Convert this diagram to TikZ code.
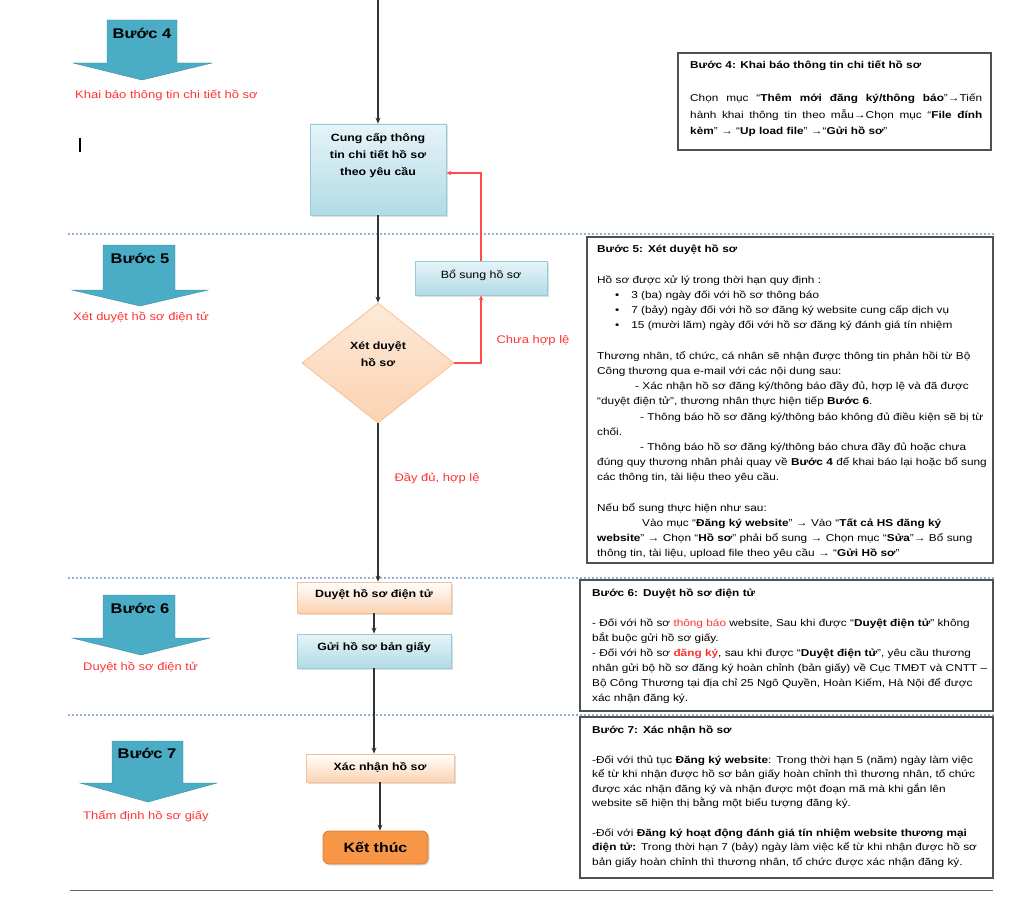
\documentclass[tikz,border=0pt]{standalone}
\usepackage{fontspec}
\setmainfont[FakeStretch=1.18]{Liberation Sans}
\usetikzlibrary{shapes.geometric,shadows,arrows.meta}
\definecolor{stepblue}{HTML}{4BACC6}
\definecolor{labred}{HTML}{FF3333}
\definecolor{loopred}{HTML}{FF4D4D}
\definecolor{dotblue}{HTML}{95B3D7}
\definecolor{bbord}{HTML}{92CDDC}
\definecolor{btop}{HTML}{E6F4F8}
\definecolor{bbot}{HTML}{B2DBE6}
\definecolor{pbord}{HTML}{FAC090}
\definecolor{pbot}{HTML}{FBD3B2}
\definecolor{endfill}{HTML}{F79646}
\definecolor{endbord}{HTML}{E07A2A}
\definecolor{boxbord}{HTML}{505050}
\newcommand{\boxfs}{\fontsize{10}{15.2}\selectfont}
\begin{document}
\begin{tikzpicture}[x=1pt,y=-1pt,
  flowline/.style={draw=black!80, line width=1.2pt, -{Stealth[length=6pt,width=5pt]}},
  redflow/.style={draw=loopred, line width=1.3pt, -{Stealth[length=5pt,width=4.5pt]}},
  bluebox/.style={rectangle, draw=bbord, line width=0.8pt, top color=btop, bottom color=bbot, inner sep=0pt,
    drop shadow={shadow xshift=1.5pt, shadow yshift=-1.5pt, opacity=0.25}},
  peachbox/.style={rectangle, draw=pbord, line width=0.8pt, top color=white, bottom color=pbot, inner sep=0pt,
    drop shadow={shadow xshift=1.5pt, shadow yshift=-1.5pt, opacity=0.25}},
  flowtext/.style={font=\fontsize{10.5}{17}\selectfont\bfseries, align=center, inner sep=0pt},
  steparrow/.style={fill=stepblue, draw=stepblue!80!black, line width=0.4pt},
  steptext/.style={font=\fontsize{14}{16}\selectfont\bfseries, inner sep=0pt},
  steplabel/.style={font=\fontsize{11}{13}\selectfont, text=labred, anchor=west, inner sep=0pt},
  sepline/.style={draw=dotblue, line width=1.5pt, dash pattern=on 2pt off 2pt},
  infobox/.style={draw=boxbord, line width=1.3pt, fill=white},
  infotext/.style={font=\boxfs, align=left, anchor=north west, inner sep=0pt, text width=400pt}
]
\useasboundingbox (0,0) rectangle (1017,923);

% separator lines
\draw[sepline] (68,234) -- (995,234);
\draw[sepline] (68,578) -- (995,578);
\draw[sepline] (68,715) -- (995,715);
\draw[draw=black!60, line width=1pt] (70,890) -- (993,890);

% cursor mark
\draw[line width=1.1pt] (80,138) -- (80,152);

% step arrows
\draw[steparrow] (107,20) -- (177,20) -- (177,63) -- (212,63) -- (142,80) -- (73,63) -- (107,63) -- cycle;
\node[steptext] (s4) at (142,33) {Bước 4};
\node[steplabel] (l4) at (75,95) {Khai báo thông tin chi tiết hồ sơ};

\draw[steparrow] (103,245) -- (175,245) -- (175,290) -- (208,290) -- (140,306) -- (72,290) -- (103,290) -- cycle;
\node[steptext] (s5) at (140,258) {Bước 5};
\node[steplabel] (l5) at (73,317) {Xét duyệt hồ sơ điện tử};

\draw[steparrow] (103,595) -- (175,595) -- (175,638) -- (210,638) -- (141,655) -- (72,638) -- (103,638) -- cycle;
\node[steptext] (s6) at (140,608) {Bước 6};
\node[steplabel] (l6) at (83,667) {Duyệt hồ sơ điện tử};

\draw[steparrow] (112,741) -- (183,741) -- (183,783) -- (217,783) -- (148,802) -- (80,783) -- (112,783) -- cycle;
\node[steptext] (s7) at (147,753) {Bước 7};
\node[steplabel] (l7) at (83,816) {Thẩm định hồ sơ giấy};

% flow nodes
\coordinate (topin) at (378,0);
\node[bluebox, minimum width=136pt, minimum height=91pt] (cung) at (378,169.5) {};
\node[flowtext] (cungt) at (378,156) {Cung cấp thông\\tin chi tiết hồ sơ\\theo yêu cầu};
\node[bluebox, minimum width=132pt, minimum height=34pt] (bosung) at (481,278) {};
\node[flowtext, font=\fontsize{10.5}{13}\selectfont] (bosungt) at (481,275) {Bổ sung hồ sơ};
\node[diamond, draw=pbord, line width=0.8pt, top color=pbot!50!white, bottom color=pbot, minimum width=152pt, minimum height=120pt, inner sep=0pt] (xet) at (378,363) {};
\node[flowtext] (xett) at (378,354) {Xét duyệt\\hồ sơ};
\node[peachbox, minimum width=154pt, minimum height=31pt] (duyet) at (374,597.5) {};
\node[flowtext] (duyett) at (374,595) {Duyệt hồ sơ điện tử};
\node[bluebox, minimum width=154pt, minimum height=34pt] (gui) at (374,651) {};
\node[flowtext] (guit) at (374,648) {Gửi hồ sơ bản giấy};
\node[peachbox, minimum width=148pt, minimum height=28pt] (xacnhan) at (380,768) {};
\node[flowtext] (xacnhant) at (380,767) {Xác nhận hồ sơ};
\node[rectangle, rounded corners=6pt, fill=endfill, draw=endbord, line width=0.8pt, minimum width=105pt, minimum height=33pt,
  font=\fontsize{13.5}{16}\selectfont\bfseries, drop shadow={shadow xshift=1.5pt, shadow yshift=-1.5pt, opacity=0.25}] (ket) at (375.5,847.5) {Kết thúc};

% connectors
\draw[flowline] (topin) -- (cung.north);
\draw[flowline] (cung.south) -- (xet.north);
\draw[flowline] (xet.south) -- (xet.south |- duyet.north);
\draw[flowline] (duyet.south) -- (gui.north);
\draw[flowline] (gui.south) -- (gui.south |- xacnhan.north);
\draw[flowline] (xacnhan.south) -- (xacnhan.south |- ket.north);
\draw[redflow] (xet.east) -| (bosung.south);
\draw[redflow] (bosung.north) |- (cung.east |- 0,173);
\node[font=\fontsize{11}{13}\selectfont, text=labred, inner sep=0pt] (chua) at (533,341) {Chưa hợp lệ};
\node[font=\fontsize{11}{13}\selectfont, text=labred, inner sep=0pt] (day) at (437,478) {Đầy đủ, hợp lệ};

% info boxes
\draw[infobox] (678,53) rectangle (991,150);
\node[infotext, text width=292pt, align=justify, font=\fontsize{10}{16.5}\selectfont] (t4) at (690,61) {\textbf{Bước 4: Khai báo thông tin chi tiết hồ sơ}\\[16.5pt]
Chọn mục “\textbf{Thêm mới đăng ký/thông báo}”→Tiến\linebreak
hành khai thông tin theo mẫu→Chọn mục “\textbf{File đính}\linebreak
\textbf{kèm}” → “\textbf{Up load file}” →“\textbf{Gửi hồ sơ}”};

\draw[infobox] (587,237) rectangle (993,563);
\node[infotext] (t5) at (597,245) {\textbf{Bước 5: Xét duyệt hồ sơ}\\[15.2pt]
Hồ sơ được xử lý trong thời hạn quy định :\\
\hspace*{18pt}•\hspace{12pt}3 (ba) ngày đối với hồ sơ thông báo\\
\hspace*{18pt}•\hspace{12pt}7 (bảy) ngày đối với hồ sơ đăng ký website cung cấp dịch vụ\\
\hspace*{18pt}•\hspace{12pt}15 (mười lăm) ngày đối với hồ sơ đăng ký đánh giá tín nhiệm\\[15.2pt]
Thương nhân, tổ chức, cá nhân sẽ nhận được thông tin phản hồi từ Bộ\\
Công thương qua e-mail với các nội dung sau:\\
\hspace*{38pt}- Xác nhận hồ sơ đăng ký/thông báo đầy đủ, hợp lệ và đã được\\
“duyệt điện tử”, thương nhân thực hiện tiếp \textbf{Bước 6}.\\
\hspace*{43pt}- Thông báo hồ sơ  đăng ký/thông báo không đủ điều kiện sẽ bị từ\\
chối.\\
\hspace*{43pt}- Thông báo hồ sơ  đăng ký/thông báo chưa đầy đủ hoặc chưa\\
đúng quy thương nhân phải quay về \textbf{Bước 4} để khai báo lại hoặc bổ sung\\
các thông tin, tài liệu theo yêu cầu.\\[15.2pt]
Nếu bổ sung thực hiện như sau:\\
\hspace*{45pt}Vào mục “\textbf{Đăng ký website}” → Vào “\textbf{Tất cả HS đăng ký}\\
\textbf{website}” → Chọn “\textbf{Hồ sơ}” phải bổ sung → Chọn mục “\textbf{Sửa}”→ Bổ sung\\
thông tin, tài liệu, upload file theo yêu cầu → “\textbf{Gửi Hồ sơ}”};

\draw[infobox] (580,580) rectangle (993,711);
\node[infotext, font=\fontsize{10}{15}\selectfont] (t6) at (592,589) {\textbf{Bước 6: Duyệt hồ sơ điện tử}\\[15pt]
-  Đối với hồ sơ \textcolor{labred}{thông báo}  website, Sau khi được “\textbf{Duyệt điện tử}” không\\
bắt buộc gửi hồ sơ giấy.\\
-  Đối với hồ sơ \textcolor{labred}{\textbf{đăng ký}}, sau khi được “\textbf{Duyệt điện tử}”, yêu cầu thương\\
nhân gửi bộ hồ sơ đăng ký  hoàn chỉnh (bản giấy) về Cục TMĐT và CNTT –\\
Bộ Công Thương tại địa chỉ 25 Ngô Quyền, Hoàn Kiếm, Hà Nội để được\\
xác nhận đăng ký.};

\draw[infobox] (580,717) rectangle (993,878);
\node[infotext, font=\fontsize{10}{14.6}\selectfont] (t7) at (592,726) {\textbf{Bước 7: Xác nhận hồ sơ}\\[14.6pt]
-Đối với thủ tục \textbf{Đăng ký website}: Trong thời hạn 5 (năm) ngày làm việc\\
kể từ  khi nhận được hồ sơ bản giấy hoàn chỉnh thì  thương nhân, tổ chức\\
được xác nhận đăng ký và nhận được một đoạn mã mà khi gắn lên\\
website sẽ hiện thị bằng một biểu tượng đăng ký.\\[14.6pt]
-Đối với \textbf{Đăng ký hoạt động  đánh giá  tín nhiệm website thương mại}\\
\textbf{điện tử:}  Trong thời hạn 7 (bảy) ngày làm việc kể từ khi nhận được hồ sơ\\
bản giấy hoàn chỉnh thì thương nhân, tổ  chức được xác nhận đăng ký.};
\end{tikzpicture}
\end{document}
